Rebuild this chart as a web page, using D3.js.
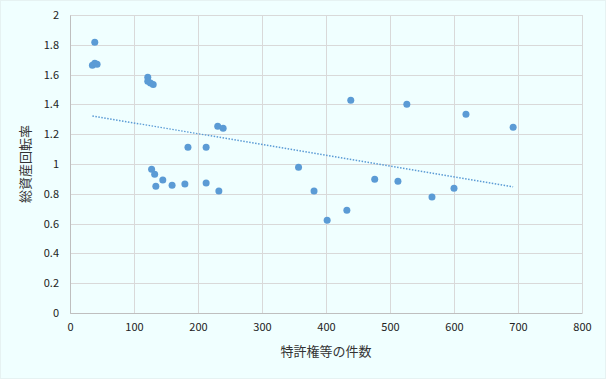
<!DOCTYPE html>
<html>
<head>
<meta charset="utf-8">
<script src="https://cdn.jsdelivr.net/npm/d3@7"></script>
<style>
  body { margin: 0; background: #F0FFFF; }
  #chart { width: 606px; height: 379px; }
  .tick text { font-family: "Noto Sans CJK JP", "DejaVu Sans", sans-serif; font-size: 11px; fill: #222; }
</style>
</head>
<body>
<div id="chart"></div>
<script>
// number of patents etc. (x) vs total asset turnover (y)
var patentCounts = [38.7, 35, 38.7, 42.3, 121.5, 121.5, 125.7, 130, 230.8, 239.3, 184.3, 212.7,
  127.5, 132.3, 145, 134.1, 159.5, 179.5, 212.7, 232.6, 357.1, 381.3, 401.8, 432.6, 438.7,
  476.1, 512.4, 526.3, 565.6, 600, 618.7, 692.4]
var turnover = [1.817, 1.663, 1.676, 1.669, 1.582, 1.555, 1.544, 1.533, 1.254, 1.240, 1.113, 1.113,
  0.965, 0.932, 0.892, 0.851, 0.858, 0.865, 0.872, 0.818, 0.979, 0.818, 0.623, 0.690, 1.428,
  0.898, 0.885, 1.401, 0.778, 0.838, 1.334, 1.247]
var xTicks = [0, 100, 200, 300, 400, 500, 600, 700, 800]
var yTicks = [0, 0.2, 0.4, 0.6, 0.8, 1, 1.2, 1.4, 1.6, 1.8, 2]

var MARGIN = {TOP: 15, RIGHT: 24, BOTTOM: 66, LEFT: 70},
  WIDTH = 606 - MARGIN.LEFT - MARGIN.RIGHT,
  HEIGHT = 379 - MARGIN.TOP - MARGIN.BOTTOM

var svg = d3.select("#chart").append("svg")
  .attr("width", 606)
  .attr("height", 379)

svg.append("rect")
  .attr("x", 0.5).attr("y", 0.5)
  .attr("width", 605).attr("height", 378)
  .style("fill", "#F0FFFF")
  .style("stroke", "#E6F2F2")

var g = svg.append("g")
  .attr("transform", "translate(" + MARGIN.LEFT + "," + MARGIN.TOP + ")")

var xScale = d3.scaleLinear().domain([0, 800]).range([0, WIDTH])
var yScale = d3.scaleLinear().domain([0, 2]).range([HEIGHT, 0])

// gridlines
g.append("g").selectAll("line")
  .data(yTicks)
  .enter().append("line")
  .attr("x1", 0).attr("x2", WIDTH)
  .attr("y1", function(d) { return Math.round(yScale(d)) + 0.5 })
  .attr("y2", function(d) { return Math.round(yScale(d)) + 0.5 })
  .style("stroke", "#D9D9D9")

g.append("g").selectAll("line")
  .data(xTicks)
  .enter().append("line")
  .attr("y1", 0).attr("y2", HEIGHT)
  .attr("x1", function(d) { return Math.round(xScale(d)) + 0.5 })
  .attr("x2", function(d) { return Math.round(xScale(d)) + 0.5 })
  .style("stroke", "#D9D9D9")

var xAxis = d3.axisBottom(xScale).tickValues(xTicks).tickSize(0).tickPadding(10)
  .tickFormat(function(d) { return String(d) })
var yAxis = d3.axisLeft(yScale).tickValues(yTicks).tickSize(0).tickPadding(11)
  .tickFormat(function(d) { return String(d) })

g.append("g")
  .attr("transform", "translate(0," + HEIGHT + ")")
  .call(xAxis)
g.append("g").call(yAxis)

g.selectAll(".domain").style("stroke", "#BFBFBF")

// linear trendline from the data
var n = patentCounts.length
var mx = d3.mean(patentCounts), my = d3.mean(turnover)
var sxy = 0, sxx = 0
for (var i = 0; i < n; i++) {
  sxy += (patentCounts[i] - mx) * (turnover[i] - my)
  sxx += (patentCounts[i] - mx) * (patentCounts[i] - mx)
}
var slope = sxy / sxx, intercept = my - slope * mx
var xExt = d3.extent(patentCounts)

g.append("line")
  .attr("x1", xScale(xExt[0])).attr("y1", yScale(intercept + slope * xExt[0]))
  .attr("x2", xScale(xExt[1])).attr("y2", yScale(intercept + slope * xExt[1]))
  .style("stroke", "#5B9BD5")
  .style("stroke-width", 1.5)
  .style("stroke-dasharray", "1.5 1.5")

g.selectAll("circle")
  .data(patentCounts)
  .enter().append("circle")
  .attr("cx", function(d) { return xScale(d) })
  .attr("cy", function(d, i) { return yScale(turnover[i]) })
  .attr("r", 3.5)
  .style("fill", "#5B9BD5")

svg.append("text")
  .attr("x", MARGIN.LEFT + WIDTH / 2)
  .attr("y", 356)
  .attr("text-anchor", "middle")
  .style("font-family", "'Noto Sans CJK JP', sans-serif")
  .style("font-size", "13px")
  .style("fill", "#333")
  .text("特許権等の件数")

svg.append("text")
  .attr("transform", "translate(30," + (MARGIN.TOP + HEIGHT / 2) + ") rotate(-90)")
  .attr("text-anchor", "middle")
  .style("font-family", "'Noto Sans CJK JP', sans-serif")
  .style("font-size", "13px")
  .style("fill", "#333")
  .text("総資産回転率")
</script>
</body>
</html>
